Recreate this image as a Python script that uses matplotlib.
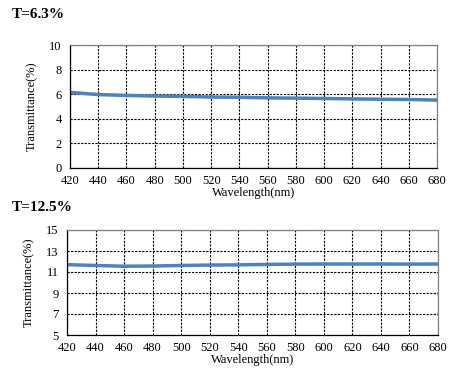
import matplotlib
matplotlib.use("Agg")
import matplotlib.pyplot as plt

wavelength = [420, 440, 460, 480, 500, 520, 540, 560, 580, 600, 620, 640, 660, 680]
t_low = [6.15, 5.97, 5.9, 5.85, 5.82, 5.77, 5.75, 5.7, 5.68, 5.65, 5.62, 5.59, 5.57, 5.52]
t_high = [11.7, 11.62, 11.55, 11.57, 11.62, 11.66, 11.68, 11.72, 11.75, 11.76, 11.76, 11.76, 11.75, 11.76]

xticks = list(range(420, 681, 20))
yticks_low = [0, 2, 4, 6, 8, 10]
yticks_high = [5, 7, 9, 11, 13, 15]

plt.rcParams['font.family'] = ['Liberation Serif', 'DejaVu Serif']

fig = plt.figure(figsize=(4.58, 3.78), dpi=100)

def style(ax, yticks):
    ax.set_xlim(420, 680)
    ax.set_ylim(yticks[0], yticks[-1])
    ax.set_xticks(xticks)
    ax.set_yticks(yticks)
    ax.grid(True, color='black', linestyle=(0, (2, 1.2)), linewidth=0.8)
    ax.tick_params(length=0, labelsize=9)
    ax.tick_params(axis='x', pad=5)
    ax.tick_params(axis='y', pad=6)
    for s in ['top', 'right']:
        ax.spines[s].set_color('#808080')
    for s in ['left', 'bottom']:
        ax.spines[s].set_color('black')
    for s in ax.spines.values():
        s.set_linewidth(0.9)
    ax.set_xlabel('Wavelength(nm)', fontsize=9, labelpad=0)
    ax.set_ylabel('Transmittance(%)', fontsize=9, labelpad=8)

ax1 = fig.add_axes([70/458, 1-168/378, 367/458, 123/378])
ax1.plot(wavelength, t_low, color='#4F81BD', linewidth=2.5)
style(ax1, yticks_low)

ax2 = fig.add_axes([67/458, 1-335/378, 371/458, 105/378])
ax2.plot(wavelength, t_high, color='#4F81BD', linewidth=2.5)
style(ax2, yticks_high)

fig.text(12/458, 1-15/378, 'T=6.3%', fontsize=11, fontweight='bold', va='center', ha='left')
fig.text(12/458, 1-207/378, 'T=12.5%', fontsize=11, fontweight='bold', va='center', ha='left')

fig.savefig('out.png', dpi=100)
